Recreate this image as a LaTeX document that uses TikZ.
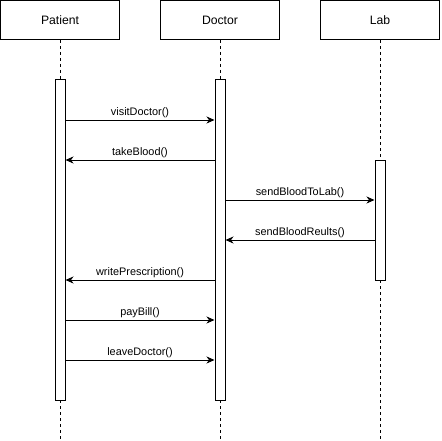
\documentclass[tikz,border=0pt]{standalone}
\usepackage{fontspec}
\setmainfont{Liberation Sans}
\usetikzlibrary{arrows.meta, positioning}

\begin{document}
\begin{tikzpicture}[x=1pt, y=-1pt, line width=1pt,
  actor/.style={draw, minimum width=119pt, minimum height=39pt, inner sep=0pt, font=\fontsize{12.2}{14}\selectfont},
  life/.style={dash pattern=on 3pt off 3pt},
  bar/.style={draw, fill=white, minimum width=10pt, inner sep=0pt},
  msg/.style={-{Stealth[length=8pt, width=7pt, inset=2.5pt]}},
  lbl/.style={above, inner sep=2pt, font=\fontsize{10.9}{12}\selectfont}]
\useasboundingbox (0,0) rectangle (441,441);

% heads
\node[actor] (patient) at (60,20) {Patient};
\node[actor] (doctor) at (220,20) {Doctor};
\node[actor] (lab) at (380,20) {Lab};

% lifelines
\coordinate (pend) at (60,441);
\coordinate (dend) at (220,441);
\coordinate (lend) at (380,441);
\draw[life] (patient.south) -- (pend);
\draw[life] (doctor.south) -- (dend);
\draw[life] (lab.south) -- (lend);

% activations
\node[bar, minimum height=320pt] (pbar) at (60,240) {};
\node[bar, minimum height=320pt] (dbar) at (220,240) {};
\node[bar, minimum height=120pt] (lbar) at (380,220) {};

% message levels
\coordinate (m1) at (0,120);
\coordinate (m2) at (0,160);
\coordinate (m3) at (0,200);
\coordinate (m4) at (0,240);
\coordinate (m5) at (0,280);
\coordinate (m6) at (0,320);
\coordinate (m7) at (0,360);

\draw[msg] (pbar.east |- m1) -- node[lbl] {visitDoctor()} (dbar.west |- m1);
\draw[msg] (dbar.west |- m2) -- node[lbl] {takeBlood()} (pbar.east |- m2);
\draw[msg] (dbar.east |- m3) -- node[lbl] {sendBloodToLab()} (lbar.west |- m3);
\draw[msg] (lbar.west |- m4) -- node[lbl] {sendBloodReults()} (dbar.east |- m4);
\draw[msg] (dbar.west |- m5) -- node[lbl] {writePrescription()} (pbar.east |- m5);
\draw[msg] (pbar.east |- m6) -- node[lbl] {payBill()} (dbar.west |- m6);
\draw[msg] (pbar.east |- m7) -- node[lbl] {leaveDoctor()} (dbar.west |- m7);
\end{tikzpicture}
\end{document}
